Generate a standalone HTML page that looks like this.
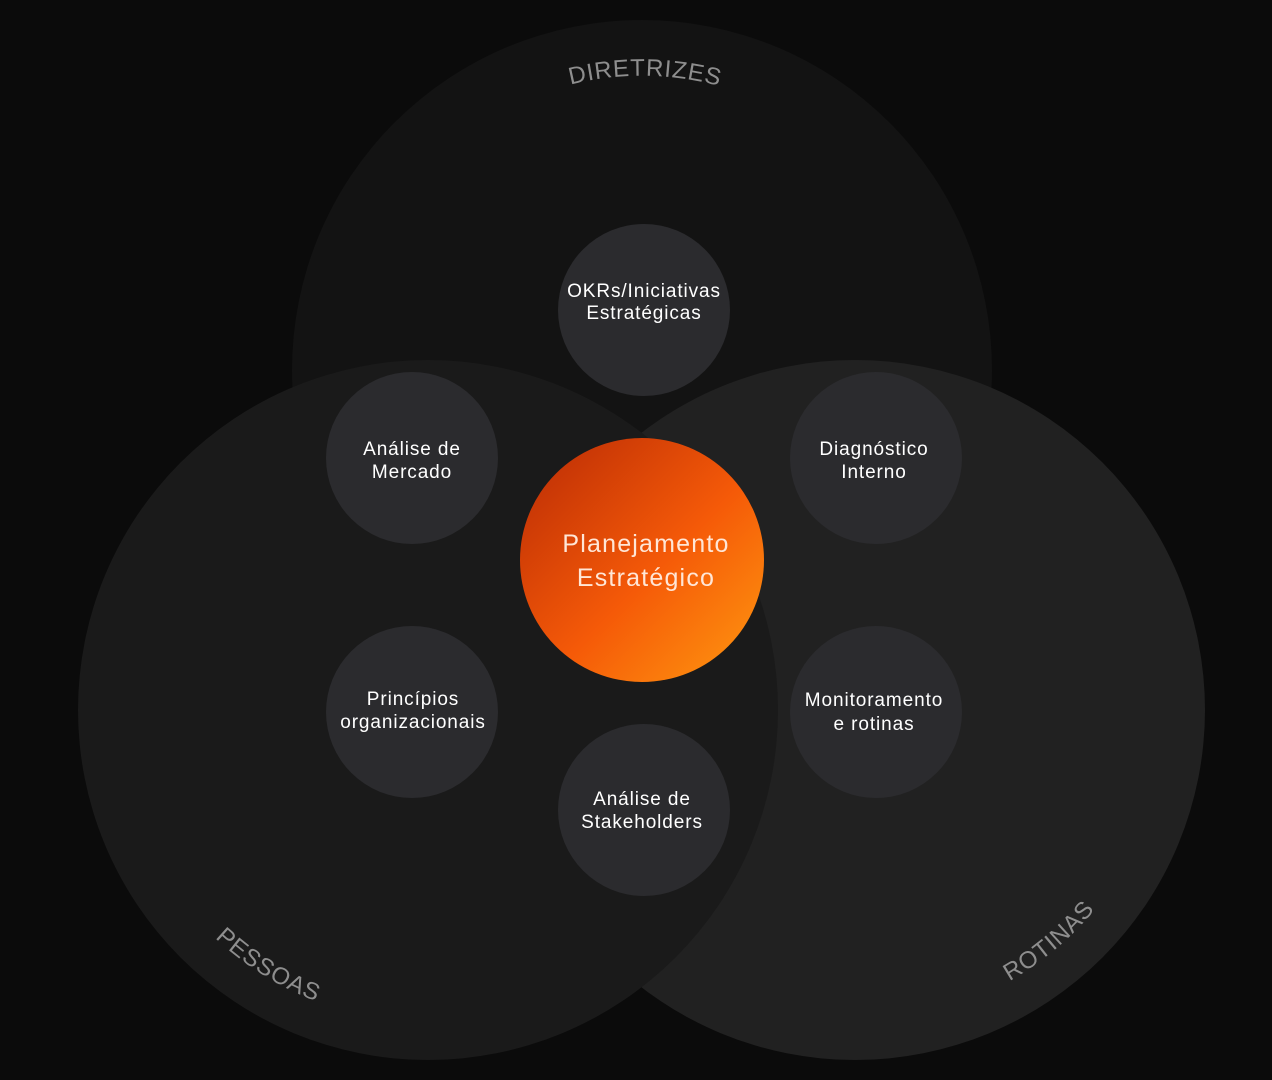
<!DOCTYPE html>
<html><head><meta charset="utf-8"><style>
html,body{margin:0;padding:0;background:#0b0b0b;}
svg{display:block;}
.s{fill:#fff;font-family:"Liberation Sans",sans-serif;font-size:19px;text-anchor:middle;letter-spacing:0.9px;}
.c{font-family:"Liberation Sans",sans-serif;font-size:24px;fill:#8e8e8e;letter-spacing:0.8px;font-weight:300;}
</style></head><body>
<svg width="1272" height="1080" viewBox="0 0 1272 1080">
<defs>
<linearGradient id="g" x1="0" y1="0" x2="1" y2="1">
<stop offset="0" stop-color="#b82a05"/>
<stop offset="0.55" stop-color="#f55a08"/>
<stop offset="1" stop-color="#ff9a10"/>
</linearGradient>
<path id="p1" d="M493.5,116 A294,294 0 0 1 790.5,116"/>
<path id="p2" d="M157.8,866 A312,312 0 0 0 406.2,1021.3"/>
<path id="p3" d="M919.9,1015.2 A312,312 0 0 0 1144.3,826.9"/>
</defs>
<rect width="1272" height="1080" fill="#0b0b0b"/>
<circle cx="642" cy="370" r="350" fill="#131313"/>
<circle cx="855" cy="710" r="350" fill="#212121"/>
<circle cx="428" cy="710" r="350" fill="#1a1a1a"/>
<text class="c"><textPath href="#p1" startOffset="51%" text-anchor="middle">DIRETRIZES</textPath></text>
<text class="c"><textPath href="#p2" startOffset="50%" text-anchor="middle">PESSOAS</textPath></text>
<text class="c"><textPath href="#p3" startOffset="50%" text-anchor="middle">ROTINAS</textPath></text>
<g fill="#2b2b2e">
<circle cx="644" cy="310" r="86"/>
<circle cx="412" cy="458" r="86"/>
<circle cx="876" cy="458" r="86"/>
<circle cx="412" cy="712" r="86"/>
<circle cx="876" cy="712" r="86"/>
<circle cx="644" cy="810" r="86"/>
</g>
<circle cx="642" cy="560" r="122" fill="url(#g)"/>
<text class="s" x="644" y="297">OKRs/Iniciativas</text>
<text class="s" x="644" y="319">Estratégicas</text>
<text class="s" x="412" y="455">Análise de</text>
<text class="s" x="412" y="478">Mercado</text>
<text class="s" x="874" y="455">Diagnóstico</text>
<text class="s" x="874" y="478">Interno</text>
<text class="s" x="413" y="705">Princípios</text>
<text class="s" x="413" y="728">organizacionais</text>
<text class="s" x="874" y="706">Monitoramento</text>
<text class="s" x="874" y="730">e rotinas</text>
<text class="s" x="642" y="805">Análise de</text>
<text class="s" x="642" y="828">Stakeholders</text>
<text class="s" x="646" y="552" style="font-size:25px;letter-spacing:1.2px;fill:#ffe6d6;">Planejamento</text>
<text class="s" x="646" y="586" style="font-size:25px;letter-spacing:1.2px;fill:#ffe6d6;">Estratégico</text>
</svg>
</body></html>
